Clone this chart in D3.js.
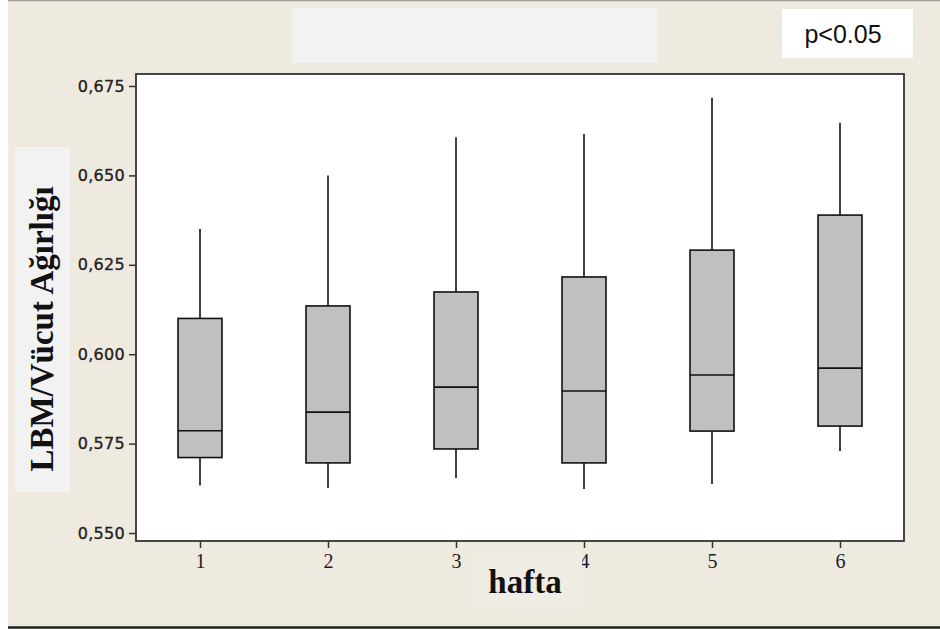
<!DOCTYPE html>
<html>
<head>
<meta charset="utf-8">
<script src="https://cdn.jsdelivr.net/npm/d3@7"></script>
<style>
  html, body { margin: 0; padding: 0; background: #ffffff; }
  svg { display: block; }
</style>
</head>
<body>
<script>
// Weekly LBM / body-weight ratios: whisker ends, quartiles and median per week
const weeks      = ["1", "2", "3", "4", "5", "6"];
const whiskerLow = [0.5633, 0.5626, 0.5654, 0.5623, 0.5637, 0.5729];
const q1         = [0.5711, 0.5696, 0.5735, 0.5696, 0.5785, 0.5799];
const medians    = [0.5786, 0.5838, 0.5908, 0.5897, 0.5942, 0.5961];
const q3         = [0.6100, 0.6135, 0.6174, 0.6216, 0.6291, 0.6389];
const whiskerHigh= [0.6350, 0.6500, 0.6607, 0.6616, 0.6717, 0.6647];
const yTicks     = [0.550, 0.575, 0.600, 0.625, 0.650, 0.675];

const W = 940, H = 629;
const plot = { left: 136, top: 74, right: 904, bottom: 541 };

const svg = d3.select("body").append("svg").attr("width", W).attr("height", H);

// page background
svg.append("rect").attr("x", 8).attr("y", 0).attr("width", W - 8).attr("height", H)
  .attr("fill", "#eeeae0");
svg.append("line").attr("x1", 8).attr("x2", W).attr("y1", 0.5).attr("y2", 0.5)
  .attr("stroke", "#a09d98").attr("stroke-width", 1.5);
svg.append("line").attr("x1", 8).attr("x2", W).attr("y1", 627.5).attr("y2", 627.5)
  .attr("stroke", "#222").attr("stroke-width", 2.5);

// title placeholder and significance note
svg.append("rect").attr("x", 292).attr("y", 8).attr("width", 365).attr("height", 55)
  .attr("fill", "#f2f2f2");
svg.append("rect").attr("x", 782).attr("y", 9).attr("width", 131).attr("height", 49)
  .attr("fill", "#ffffff");
svg.append("text").attr("x", 843).attr("y", 43).attr("text-anchor", "middle")
  .attr("font-family", "Liberation Sans, Arial, sans-serif").attr("font-size", 25)
  .attr("fill", "#111").text("p<0.05");

const x = d3.scalePoint().domain(weeks).range([plot.left, plot.right]).padding(0.5);
const y = d3.scaleLinear()
  .domain([0.675 - (plot.bottom - 86) / 3576, 0.675 + (86 - plot.top) / 3576])
  .range([plot.bottom, plot.top]);

// plot area
svg.append("rect").attr("x", plot.left).attr("y", plot.top)
  .attr("width", plot.right - plot.left).attr("height", plot.bottom - plot.top)
  .attr("fill", "#ffffff").attr("stroke", "#333").attr("stroke-width", 1.8);

// axes
const fmt = d => d3.format(".3f")(d).replace(".", ",");
const yAxis = svg.append("g").attr("transform", `translate(${plot.left},0)`)
  .call(d3.axisLeft(y).tickValues(yTicks).tickFormat(fmt).tickSize(7).tickPadding(4));
yAxis.select(".domain").remove();
yAxis.selectAll("line").attr("stroke", "#333").attr("stroke-width", 1.5);
yAxis.selectAll("text").attr("font-family", "DejaVu Sans, Verdana, sans-serif")
  .attr("font-size", 16).attr("letter-spacing", "0.3px").attr("fill", "#222")
  .attr("stroke", "#222").attr("stroke-width", 0.35);

const xAxis = svg.append("g").attr("transform", `translate(0,${plot.bottom})`)
  .call(d3.axisBottom(x).tickSize(7).tickPadding(6));
xAxis.select(".domain").remove();
xAxis.selectAll("line").attr("stroke", "#333").attr("stroke-width", 1.5);
xAxis.selectAll("text").attr("font-family", "Liberation Serif, Times New Roman, serif")
  .attr("font-size", 20).attr("fill", "#1a1a2a");

// axis titles on light panels
svg.append("rect").attr("x", 474).attr("y", 551).attr("width", 108).attr("height", 56)
  .attr("fill", "#efece3");
svg.append("text").attr("x", 525).attr("y", 593).attr("text-anchor", "middle")
  .attr("font-family", "Liberation Serif, Times New Roman, serif").attr("font-weight", "bold")
  .attr("font-size", 33).attr("fill", "#111").text("hafta");

svg.append("rect").attr("x", 15).attr("y", 147).attr("width", 55).attr("height", 345)
  .attr("fill", "#f2f2f2");
svg.append("text").attr("transform", "translate(53,329) rotate(-90)")
  .attr("text-anchor", "middle")
  .attr("font-family", "Liberation Serif, Times New Roman, serif").attr("font-weight", "bold")
  .attr("font-size", 33).attr("fill", "#111").text("LBM/Vücut Ağırlığı");

// box plots
const boxW = 44;
const rows = weeks.map((w, i) => ({
  w, lo: whiskerLow[i], q1: q1[i], med: medians[i], q3: q3[i], hi: whiskerHigh[i]
}));
const g = svg.append("g").selectAll("g").data(rows).join("g");
g.append("line").attr("x1", d => x(d.w)).attr("x2", d => x(d.w))
  .attr("y1", d => y(d.hi)).attr("y2", d => y(d.q3))
  .attr("stroke", "#111").attr("stroke-width", 1.6);
g.append("line").attr("x1", d => x(d.w)).attr("x2", d => x(d.w))
  .attr("y1", d => y(d.q1)).attr("y2", d => y(d.lo))
  .attr("stroke", "#111").attr("stroke-width", 1.6);
g.append("rect").attr("x", d => x(d.w) - boxW / 2).attr("y", d => y(d.q3))
  .attr("width", boxW).attr("height", d => y(d.q1) - y(d.q3))
  .attr("fill", "#c0c0c0").attr("stroke", "#111").attr("stroke-width", 1.6);
g.append("line").attr("x1", d => x(d.w) - boxW / 2).attr("x2", d => x(d.w) + boxW / 2)
  .attr("y1", d => y(d.med)).attr("y2", d => y(d.med))
  .attr("stroke", "#111").attr("stroke-width", 1.6);
</script>
</body>
</html>
